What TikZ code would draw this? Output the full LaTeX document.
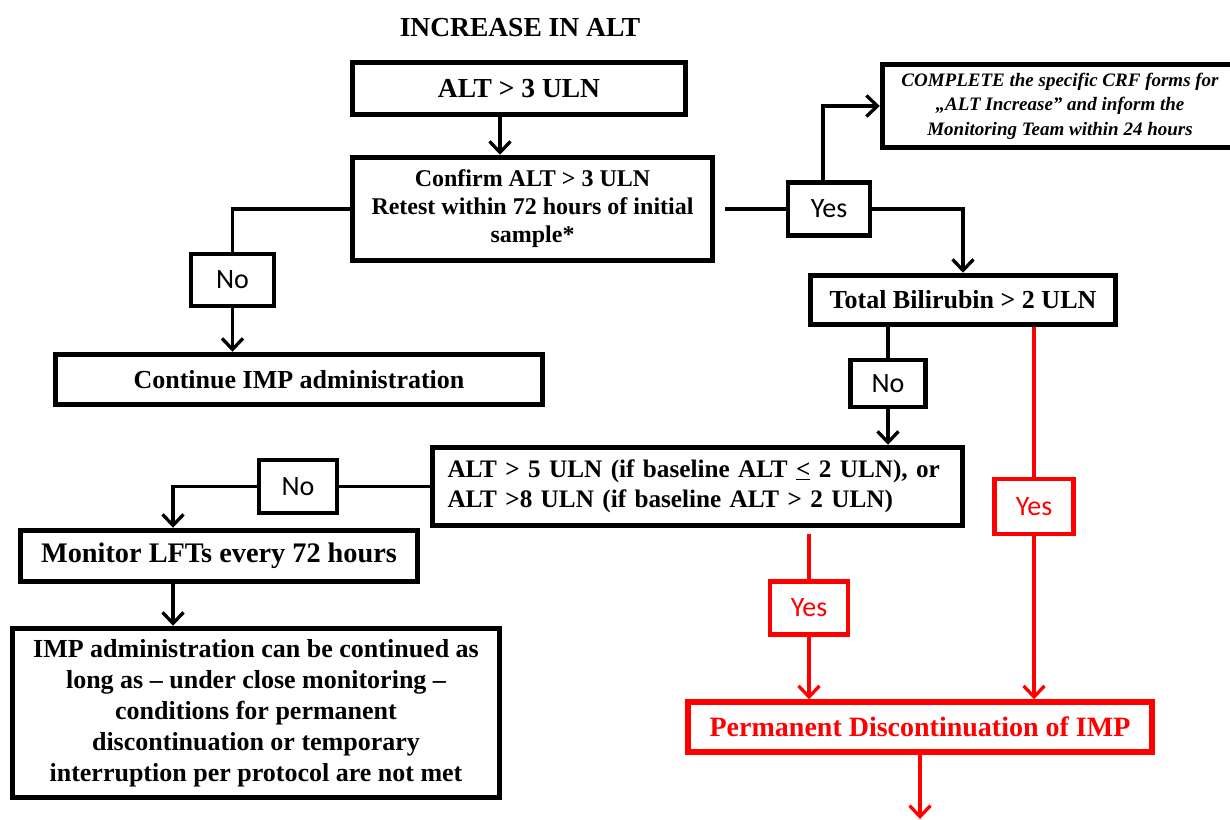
\documentclass[tikz,border=0pt]{standalone}
\usepackage{fontspec}
\setmainfont{Liberation Serif}
\newfontfamily\labelfont{Carlito}
\usetikzlibrary{arrows.meta}

\begin{document}
\begin{tikzpicture}[x=1pt,y=-1pt,
  box/.style={draw=black,line width=5.5pt,fill=white,inner sep=0pt,align=center,
    font=\bfseries\fontsize{26}{31}\selectfont},
  redbox/.style={box,draw=red,text=red},
  tag/.style={draw=black,line width=4.2pt,fill=white,inner sep=0pt,
    font=\labelfont\fontsize{28}{32}\selectfont},
  redtag/.style={tag,draw=red,text=red},
  line/.style={draw=black,line width=3.3pt},
  link/.style={line,-{Straight Barb[length=11pt,width=21pt,line width=3.3pt]}},
  redline/.style={line,draw=red},
  redlink/.style={link,draw=red},
]
\useasboundingbox (0,0) rectangle (1230,819);

% column positions of vertical connectors
\coordinate (xa) at (500,0);
\coordinate (xb) at (823,0);
\coordinate (xl) at (173,0);
\coordinate (xp) at (920,0);
\coordinate (pend) at (920,819);

% title
\node[font=\bfseries\fontsize{27.5}{31}\selectfont] (title) at (520,28) {INCREASE IN ALT};

% process boxes
\node[box,minimum width=333pt,minimum height=52pt,font=\bfseries\fontsize{27.5}{31}\selectfont]
  (a3) at (519,88.5) {ALT > 3 ULN};
\node[box,minimum width=360pt,minimum height=103pt,font=\bfseries\fontsize{24}{28}\selectfont]
  (conf) at (532.5,209) {Confirm ALT > 3 ULN\\Retest within 72 hours of initial\\sample*};
\node[box,minimum width=487pt,minimum height=50pt] (cont) at (299,379.5) {Continue IMP administration};
\node[box,minimum width=355pt,minimum height=83pt,font=\bfseries\itshape\fontsize{19}{24.5}\selectfont]
  (crf) at (1060,106) {COMPLETE the specific CRF forms for\\„ALT Increase” and inform the\\Monitoring Team within 24 hours};
\node[box,minimum width=305pt,minimum height=49pt,font=\bfseries\fontsize{26}{30}\selectfont]
  (bili) at (963,300) {Total Bilirubin > 2 ULN};
\node[box,minimum width=530pt,minimum height=78pt,text width=500pt,align=left,
  font=\bfseries\fontsize{25.2}{30}\selectfont]
  (alt5) at (697.5,486.5) {ALT > 5 ULN (if baseline ALT \underline{<} 2 ULN), or\\ALT >8 ULN (if baseline ALT > 2 ULN)};
\node[box,minimum width=397pt,minimum height=51pt,font=\bfseries\fontsize{28.3}{31}\selectfont]
  (mon) at (219,556) {Monitor LFTs every 72 hours};
\node[box,minimum width=487pt,minimum height=169pt,font=\bfseries\fontsize{26}{31}\selectfont]
  (imp) at (256,713) {IMP administration can be continued as\\long as – under close monitoring –\\conditions for permanent\\discontinuation or temporary\\interruption per protocol are not met};
\node[redbox,minimum width=464pt,minimum height=50pt,font=\bfseries\fontsize{28}{32}\selectfont]
  (perm) at (920,727) {Permanent Discontinuation of IMP};

% decision labels
\node[tag,minimum width=83pt,minimum height=52pt] (no1) at (232.5,280) {No};
\node[tag,minimum width=82pt,minimum height=53pt] (yes1) at (829,209) {Yes};
\node[tag,minimum width=75pt,minimum height=47pt] (no2) at (888,383.5) {No};
\node[tag,minimum width=78pt,minimum height=53pt] (no3) at (298,486.5) {No};
\node[redtag,minimum width=79pt,minimum height=55pt] (yes2) at (1034,506.5) {Yes};
\node[redtag,minimum width=78pt,minimum height=53pt] (yes3) at (809,608) {Yes};

% connectors
\draw[link] (a3.south -| xa) -- (conf.north -| xa);
\draw[line] (conf.west) -| (no1.north);
\draw[link] (no1.south) -- (cont.north -| no1.south);
\draw[line] ([xshift=10pt]conf.east) -- (yes1.west);
\draw[link] (yes1.north -| xb) |- (crf.west);
\draw[link] (yes1.east) -| (bili.north);
\draw[line] (bili.south -| no2) -- (no2.north);
\draw[link] (no2.south) -- (alt5.north -| no2.south);
\draw[redline] (bili.south -| yes2) -- (yes2.north);
\draw[redlink] (yes2.south) -- (perm.north -| yes2.south);
\draw[line] (alt5.west) -- (no3.east);
\draw[link] (no3.west) -| (mon.north -| xl);
\draw[link] (mon.south -| xl) -- (imp.north -| xl);
\draw[redline] ([yshift=-6pt]alt5.south -| yes3) -- (yes3.north);
\draw[redlink] (yes3.south) -- (perm.north -| yes3.south);
\draw[redlink] (perm.south -| xp) -- (pend);
\end{tikzpicture}
\end{document}
